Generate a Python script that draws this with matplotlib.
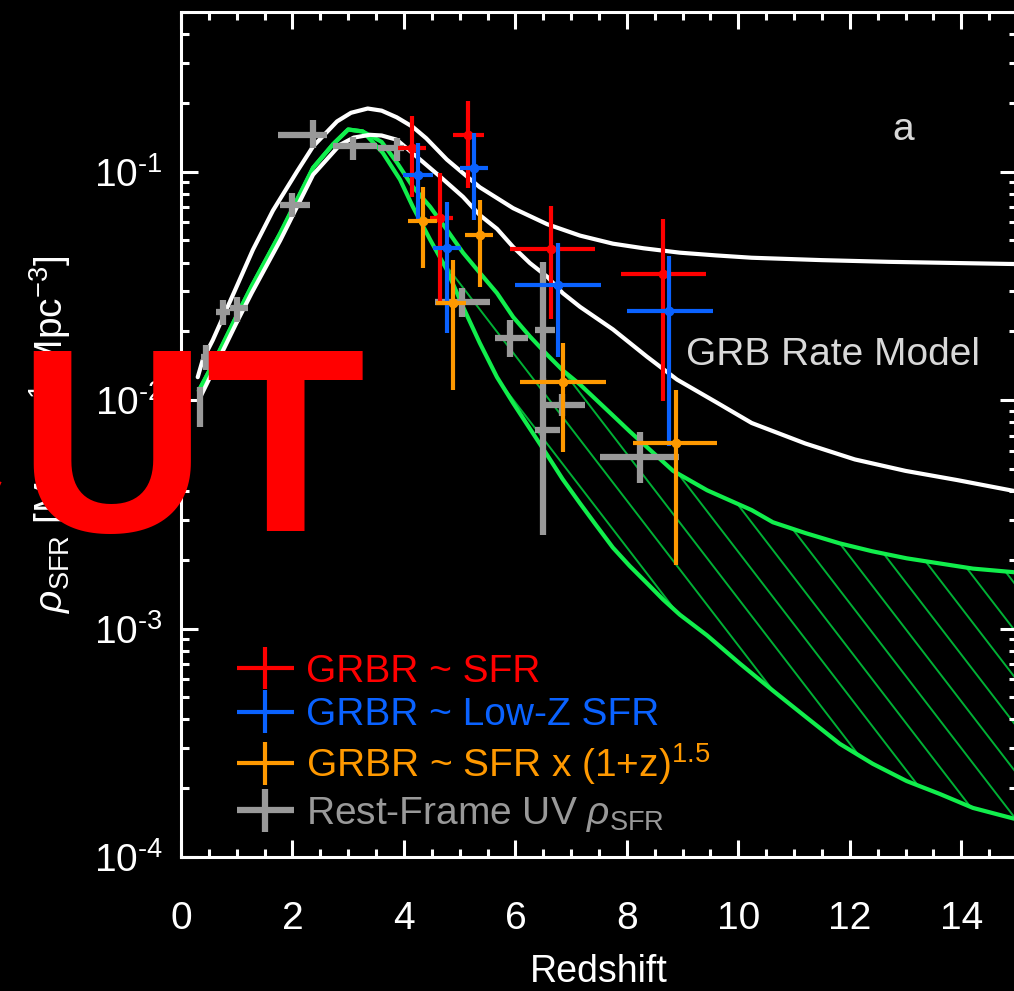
import matplotlib as mpl
mpl.use('Agg')
import matplotlib.pyplot as plt
import matplotlib.transforms as mtransforms
from matplotlib.lines import Line2D
from matplotlib.ticker import MultipleLocator, LogLocator, FuncFormatter
from matplotlib.container import ErrorbarContainer
from matplotlib.legend_handler import HandlerErrorbar
from matplotlib.textpath import TextPath
from matplotlib.font_manager import FontProperties
import numpy as np

plt.rcParams['font.family'] = ['Liberation Sans', 'DejaVu Sans']
plt.rcParams['mathtext.fontset'] = 'custom'
plt.rcParams['mathtext.rm'] = 'Liberation Sans'
plt.rcParams['mathtext.it'] = 'Liberation Sans:italic'
plt.rcParams['mathtext.bf'] = 'Liberation Sans:bold'
plt.rcParams['mathtext.sf'] = 'Liberation Sans'

## Data

# GRB rate model, white curves
z_grb_hi = [0.30, 0.39, 0.57, 0.97, 1.29, 1.65, 2.08, 2.37, 2.80, 3.05, 3.35, 3.6, 3.87, 4.16,
            4.4, 4.77, 5.36, 5.96, 6.57, 7.16, 7.75, 8.3, 8.95, 9.6, 10.24, 11.5, 12.7, 15.0]
rho_grb_hi = [0.0126, 0.0150, 0.0183, 0.0303, 0.0455, 0.0676, 0.100, 0.129, 0.166, 0.181, 0.189,
              0.185, 0.173, 0.157, 0.140, 0.113, 0.0855, 0.0692, 0.0589, 0.0525, 0.0484, 0.0462,
              0.0442, 0.0430, 0.0420, 0.0410, 0.0403, 0.0394]
z_grb_lo = [0.32, 0.6, 1.0, 1.27, 1.78, 2.37, 2.85, 3.1, 3.39, 3.6, 3.87, 4.29, 4.65, 5.06, 5.36,
            5.67, 5.96, 6.26, 6.57, 6.85, 7.16, 7.75, 8.36, 8.9, 9.6, 10.24, 11.2, 12.09, 13.0,
            13.92, 15.0]
rho_grb_lo = [0.0100, 0.0138, 0.0219, 0.0295, 0.0500, 0.097, 0.131, 0.141, 0.145, 0.144, 0.138,
              0.113, 0.0951, 0.0776, 0.0646, 0.0562, 0.0468, 0.0398, 0.0347, 0.0294, 0.0256,
              0.0204, 0.0155, 0.0123, 0.0098, 0.00794, 0.00646, 0.00550, 0.00490, 0.00447,
              0.00398]

# SFR band, green curves (common rise, then two branches)
z_sfr_rise = [0.32, 0.6, 1.0, 1.27, 1.78, 2.37, 2.73, 3.0, 3.26]
rho_sfr_rise = [0.0110, 0.0148, 0.0234, 0.0316, 0.0537, 0.104, 0.132, 0.153, 0.150]
z_sfr_hi = [3.6, 3.87, 4.16, 4.47, 4.77, 5.06, 5.36, 5.67, 5.96, 6.26, 6.57, 6.85, 7.16, 7.8,
            8.05, 8.83, 9.44, 10.24, 10.62, 11.2, 11.82, 12.4, 13.02, 14.21, 15.0]
rho_sfr_hi = [0.135, 0.110, 0.0859, 0.0702, 0.0557, 0.0442, 0.0361, 0.0294, 0.0231, 0.0190,
              0.0158, 0.0135, 0.0117, 0.00834, 0.0073, 0.00490, 0.00403, 0.00330, 0.00292,
              0.00262, 0.00236, 0.00218, 0.00203, 0.00183, 0.00176]
z_sfr_lo = [3.62, 3.93, 4.16, 4.47, 4.77, 5.06, 5.36, 5.67, 5.96, 6.26, 6.57, 6.85, 7.16, 7.45,
            7.75, 8.05, 8.36, 8.65, 8.95, 9.44, 10.03, 10.62, 11.23, 11.82, 12.41, 13.02, 13.61,
            14.21, 15.0]
rho_sfr_lo = [0.121, 0.0923, 0.0702, 0.0504, 0.0372, 0.0256, 0.0178, 0.0126, 0.0097, 0.0075,
              0.00575, 0.0045, 0.00353, 0.00283, 0.00226, 0.00188, 0.00158, 0.00134, 0.00115,
              0.000933, 0.000702, 0.000535, 0.000407, 0.000313, 0.000256, 0.000215, 0.000189,
              0.000164, 0.000146]

# GRBR ~ SFR
red_z = [4.14, 4.65, 5.15, 6.64, 8.65]
red_zlo = [3.90, 4.47, 4.88, 5.90, 7.89]
red_zhi = [4.40, 4.88, 5.43, 7.43, 9.42]
red_rho = [0.127, 0.0628, 0.144, 0.0459, 0.0357]
red_rlo = [0.0777, 0.0266, 0.0851, 0.0226, 0.0099]
red_rhi = [0.176, 0.099, 0.203, 0.0710, 0.0622]

# GRBR ~ Low-Z SFR
blue_z = [4.25, 4.77, 5.26, 6.76, 8.75]
blue_zlo = [3.98, 4.52, 5.00, 6.00, 8.00]
blue_zhi = [4.52, 5.02, 5.50, 7.53, 9.54]
blue_rho = [0.097, 0.0464, 0.104, 0.0319, 0.0246]
blue_rlo = [0.0604, 0.0197, 0.0616, 0.0155, 0.0063]
blue_rhi = [0.134, 0.0738, 0.148, 0.0489, 0.0428]

# GRBR ~ SFR x (1+z)^1.5
orange_z = [4.35, 4.88, 5.36, 6.85, 8.88]
orange_zlo = [4.07, 4.57, 5.10, 6.08, 8.11]
orange_zhi = [4.60, 5.11, 5.60, 7.62, 9.61]
orange_rho = [0.061, 0.0266, 0.053, 0.0120, 0.00647]
orange_rlo = [0.0379, 0.0111, 0.0313, 0.0059, 0.00189]
orange_rhi = [0.0859, 0.0411, 0.0753, 0.0178, 0.0111]

# Rest-frame UV rho_SFR
grey_z = [0.34, 0.45, 0.75, 1.0, 2.0, 2.37, 3.09, 3.87, 5.04, 5.9, 6.49, 6.84, 6.49, 8.23]
grey_zlo = [0.30, 0.35, 0.62, 0.88, 1.77, 1.74, 2.73, 3.53, 4.56, 5.63, 6.35, 6.44, 6.35, 7.52]
grey_zhi = [0.40, 0.55, 0.88, 1.20, 2.31, 2.62, 3.52, 4.00, 5.54, 6.22, 6.71, 7.25, 6.80, 8.93]
grey_rho = [0.0096, 0.0155, 0.0243, 0.0253, 0.0716, 0.145, 0.129, 0.127, 0.0269, 0.0187,
            0.0203, 0.0095, 0.00738, 0.00562]
grey_rlo = [0.0076, 0.0135, 0.0213, 0.0220, 0.0635, 0.127, 0.113, 0.111, 0.0231, 0.0155,
            0.0120, 0.0085, 0.00256, 0.00433]
grey_rhi = [0.0114, 0.0175, 0.0275, 0.0284, 0.0809, 0.169, 0.142, 0.141, 0.031, 0.0224,
            0.0403, 0.0106, 0.0125, 0.00724]

labels = ['GRBR ~ SFR', 'GRBR ~ Low-Z SFR', 'GRBR ~ SFR x (1+z)$^{1.5}$',
          r'Rest-Frame UV $\rho_{\mathrm{SFR}}$']

RED, BLUE, ORANGE, GREY = '#ff0000', '#0a62ff', '#ff9900', '#999999'
GREEN, HATCH = '#11ee4c', '#00b035'


def errs(v, lo, hi):
    v, lo, hi = np.asarray(v), np.asarray(lo), np.asarray(hi)
    return np.vstack([v - lo, hi - v])


## Plot

fig = plt.figure(figsize=(10.14, 9.91), dpi=100, facecolor='black')
ax = fig.add_axes([181 / 1014, 1 - 857 / 991, 836 / 1014, 845 / 991], facecolor='black')
ax.set_yscale('log')
ax.set_xlim(0, 15)
ax.set_ylim(1e-4, 0.5)

# hatched band between the two green branches
band_z = [z_sfr_rise[-1]] + z_sfr_hi + z_sfr_lo[::-1]
band_r = [rho_sfr_rise[-1]] + rho_sfr_hi + rho_sfr_lo[::-1]
band = ax.fill(band_z, band_r, facecolor='none', edgecolor='none', zorder=1)[0]

x0, y0 = ax.transAxes.transform((0, 0))
x1, y1 = ax.transAxes.transform((1, 1))
run = (y1 - y0) / 1.3
for xs in np.arange(x0 - run, x1 + 40, 36):
    ln = Line2D([xs, xs + run], [y1, y0], transform=mtransforms.IdentityTransform(),
                color=HATCH, lw=1.4, zorder=1)
    ln.set_clip_path(band)
    ax.add_artist(ln)

kw = dict(lw=3, solid_joinstyle='round', solid_capstyle='round')
ax.plot(z_sfr_rise + z_sfr_lo, rho_sfr_rise + rho_sfr_lo, color=GREEN, zorder=2, **kw)
ax.plot(z_sfr_rise + z_sfr_hi, rho_sfr_rise + rho_sfr_hi, color=GREEN, zorder=2, **kw)
ax.plot(z_grb_hi, rho_grb_hi, color='white', zorder=3, **kw)
ax.plot(z_grb_lo, rho_grb_lo, color='white', zorder=3, **kw)


def points(z, zlo, zhi, rho, rlo, rhi, color, lw, dot, zo):
    cont = ax.errorbar(z, rho, xerr=errs(z, zlo, zhi), yerr=errs(rho, rlo, rhi), fmt='none',
                       ecolor=color, elinewidth=lw, capsize=0, zorder=zo)
    if dot:
        ax.plot(z, rho, 'o', color=color, ms=6, zorder=zo)
    return cont


h_grey = points(grey_z, grey_zlo, grey_zhi, grey_rho, grey_rlo, grey_rhi, GREY, 4.5, False, 4)
h_red = points(red_z, red_zlo, red_zhi, red_rho, red_rlo, red_rhi, RED, 3, True, 5)
h_blue = points(blue_z, blue_zlo, blue_zhi, blue_rho, blue_rlo, blue_rhi, BLUE, 3, True, 6)
h_orange = points(orange_z, orange_zlo, orange_zhi, orange_rho, orange_rlo, orange_rhi,
                  ORANGE, 3, True, 7)

leg = ax.legend([h_red, h_blue, h_orange, h_grey], labels, loc='lower left',
                bbox_to_anchor=(0.066, 0.0275), frameon=False, fontsize=28, handlelength=1.5,
                handletextpad=0.3, labelspacing=0.2, borderpad=0, borderaxespad=0,
                handler_map={ErrorbarContainer: HandlerErrorbar(xerr_size=0.73, yerr_size=0.55)})
for t, c in zip(leg.get_texts(), [RED, BLUE, ORANGE, GREY]):
    t.set_color(c)

ax.text(9.06, 0.0143, 'GRB Rate Model', fontsize=28, color='#d8d8d8', va='baseline')
ax.text(12.77, 0.138, 'a', fontsize=28, color='#d8d8d8', va='baseline')

# axes styling
ax.xaxis.set_major_locator(MultipleLocator(2))
ax.xaxis.set_minor_locator(MultipleLocator(0.5))
ax.yaxis.set_minor_locator(LogLocator(subs=np.arange(2, 10)))
# exponent written with a short hyphen, as in the original
ax.yaxis.set_major_formatter(FuncFormatter(
    lambda v, pos: '$\\mathdefault{10^{\u2010%d}}$' % round(-np.log10(v))))
ax.tick_params(which='both', direction='in', top=True, right=True, colors='white', width=2.2,
               labelsize=28)
ax.tick_params(which='major', length=12)
ax.tick_params(which='minor', length=6)
ax.tick_params(axis='x', pad=32)
ax.tick_params(axis='y', pad=13)
for s in ax.spines.values():
    s.set_color('white')
    s.set_linewidth(2.2)

ax.set_xlabel('Redshift', fontsize=27, color='white', labelpad=12)
ax.set_ylabel(r'$\rho_{\mathrm{SFR}}$ [M$_{\odot}$ yr$^{-1}$ Mpc$^{-3}$]', fontsize=28,
              color='white', labelpad=15)

# big red "CUT" stamp over the left side; sized from its glyph outlines so that
# "UT" covers x = 33..363 px with the baseline at y = 531 px
cut_font = FontProperties(family=['Liberation Sans', 'DejaVu Sans'], weight='bold')
ut_ext = TextPath((0, 0), 'UT', size=100, prop=cut_font).get_extents()
c_ext = TextPath((0, 0), 'C', size=100, prop=cut_font).get_extents()
k = (363 - 33) / ut_ext.width
cut_font.set_size(100 * k * 72 / fig.dpi)
base = 1 - 531 / 991
fig.text((33 - ut_ext.x0 * k) / 1014, base, 'UT', fontproperties=cut_font, color='#ff0000',
         ha='left', va='baseline', zorder=10)
fig.text((1 - c_ext.x1 * k) / 1014, base, 'C', fontproperties=cut_font, color='#ff0000',
         ha='left', va='baseline', zorder=10)

fig.savefig('out.png', dpi=100, facecolor='black')
